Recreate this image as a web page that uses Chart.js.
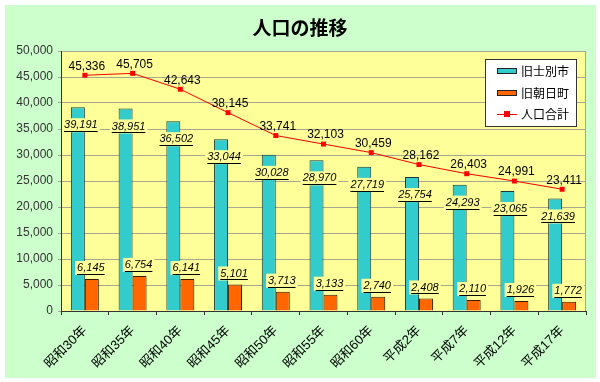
<!DOCTYPE html>
<html><head><meta charset="utf-8">
<script src="https://cdn.jsdelivr.net/npm/chart.js@4/dist/chart.umd.min.js"></script>
<style>html,body{margin:0;padding:0;background:#fff}#wrap{width:600px;height:382px;position:relative}</style>
</head><body><div id="wrap"><canvas id="c" width="600" height="382"></canvas></div>
<script>
const categories = ['昭和30年','昭和35年','昭和40年','昭和45年','昭和50年','昭和55年','昭和60年','平成2年','平成7年','平成12年','平成17年'];
const shibetsu = [39191,38951,36502,33044,30028,28970,27719,25754,24293,23065,21639];
const asahi = [6145,6754,6141,5101,3713,3133,2740,2408,2110,1926,1772];
const total = [45336,45705,42643,38145,33741,32103,30459,28162,26403,24991,23411];
const seriesNames = ['旧士別市','旧朝日町','人口合計'];
const yTicks = [0,5000,10000,15000,20000,25000,30000,35000,40000,45000,50000];
const titleText = '人口の推移';

const JP = '"Liberation Sans", "Noto Sans CJK JP", sans-serif';
const fmt = v => v.toLocaleString('en-US');

const deco = {
  id:'deco',
  beforeDraw(chart){
    const ctx = chart.ctx, a = chart.chartArea;
    ctx.save();
    ctx.fillStyle='#fff'; ctx.fillRect(0,0,600,382);
    ctx.fillStyle='#CCFFCC'; ctx.fillRect(5,5,591,373);
    ctx.fillStyle='#FFFF99'; ctx.fillRect(a.left,a.top,a.right-a.left,a.bottom-a.top);
    ctx.strokeStyle='#A0A0A0'; ctx.lineWidth=1;
    ctx.strokeRect(a.left+0.5,a.top+0.5,a.right-a.left-1,a.bottom-a.top);
    ctx.fillStyle='#000'; ctx.font='bold 19px "Noto Sans CJK JP", sans-serif';
    ctx.textAlign='center'; ctx.textBaseline='middle';
    ctx.fillText(titleText,300,28);
    ctx.restore();
  },
  afterDatasetsDraw(chart){
    const ctx = chart.ctx;
    ctx.save();
    const boxLabel=(txt,x,y)=>{
      ctx.font='italic 11px "Liberation Sans", sans-serif';
      const w=ctx.measureText(txt).width;
      ctx.fillStyle='#FFFF99';
      ctx.fillRect(x-w/2-2,y-7,w+4,14);
      ctx.fillStyle='#000'; ctx.textAlign='center'; ctx.textBaseline='middle';
      ctx.fillText(txt,x,y);
      ctx.strokeStyle='#000'; ctx.lineWidth=1;
      ctx.beginPath(); ctx.moveTo(x-w/2,Math.round(y+6)+0.5); ctx.lineTo(x+w/2,Math.round(y+6)+0.5); ctx.stroke();
    };
    chart.getDatasetMeta(0).data.forEach((b,i)=>boxLabel(fmt(shibetsu[i]),b.x+3,b.y+18));
    chart.getDatasetMeta(1).data.forEach((b,i)=>boxLabel(fmt(asahi[i]),b.x-1,b.y-11));
    ctx.font='12px "Liberation Sans", sans-serif';
    ctx.fillStyle='#000'; ctx.textAlign='center'; ctx.textBaseline='middle';
    chart.getDatasetMeta(2).data.forEach((p,i)=>ctx.fillText(fmt(total[i]),p.x+2,p.y-9));
    // legend
    ctx.fillStyle='#fff'; ctx.fillRect(485,59,92,68);
    ctx.strokeStyle='#333'; ctx.lineWidth=1; ctx.strokeRect(485.5,59.5,91,67);
    ctx.font='12px "Noto Sans CJK JP", sans-serif'; ctx.textAlign='left'; ctx.fillStyle='#000';
    const ys=[71,93,114];
    ctx.fillStyle='#33CCCC'; ctx.fillRect(497,68,20,6); ctx.strokeStyle='#222'; ctx.strokeRect(497.5,68.5,19,5);
    ctx.fillStyle='#FF6600'; ctx.fillRect(497,90,20,6); ctx.strokeRect(497.5,90.5,19,5);
    ctx.strokeStyle='#FF0000'; ctx.beginPath(); ctx.moveTo(497,114.5); ctx.lineTo(517,114.5); ctx.stroke();
    ctx.fillStyle='#FF0000'; ctx.fillRect(504,111,6,6);
    ctx.fillStyle='#000';
    seriesNames.forEach((n,i)=>ctx.fillText(n,521,ys[i]));
    ctx.restore();
  }
};

new Chart(document.getElementById('c'),{
  data:{labels:categories,datasets:[
    {type:'bar',label:seriesNames[0],data:shibetsu,backgroundColor:'#33CCCC',borderColor:'#1a3a3a',borderWidth:1,barPercentage:1,categoryPercentage:0.586,order:1},
    {type:'bar',label:seriesNames[1],data:asahi,backgroundColor:'#FF6600',borderColor:'#3a1a00',borderWidth:1,barPercentage:1,categoryPercentage:0.586,order:1},
    {type:'line',label:seriesNames[2],data:total,borderColor:'#FF0000',backgroundColor:'#FF0000',borderWidth:1,pointStyle:'rect',pointRadius:3.5,pointBorderWidth:0,order:0}
  ]},
  options:{
    responsive:false,animation:false,
    layout:{padding:{left:0,right:14,top:51,bottom:0}},
    plugins:{legend:{display:false},tooltip:{enabled:false},title:{display:false}},
    scales:{
      x:{offset:true,
        grid:{offset:true,drawOnChartArea:false,drawTicks:true,tickLength:4,color:'#333'},
        border:{color:'#333',width:1},
        ticks:{minRotation:45,maxRotation:45,autoSkip:false,color:'#000',font:{family:JP,size:13},padding:8},
        afterFit(s){s.height=71;}
      },
      y:{min:0,max:50000,
        afterBuildTicks(s){s.ticks=yTicks.map(v=>({value:v}));},
        grid:{color:'#A8A890',drawTicks:true,tickLength:3},
        border:{color:'#333',width:1},
        ticks:{color:'#333',font:{family:'"Liberation Sans", sans-serif',size:12},padding:5,callback:v=>fmt(v)},
        afterFit(s){s.width=61;}
      }
    }
  },
  plugins:[deco]
});
</script></body></html>
